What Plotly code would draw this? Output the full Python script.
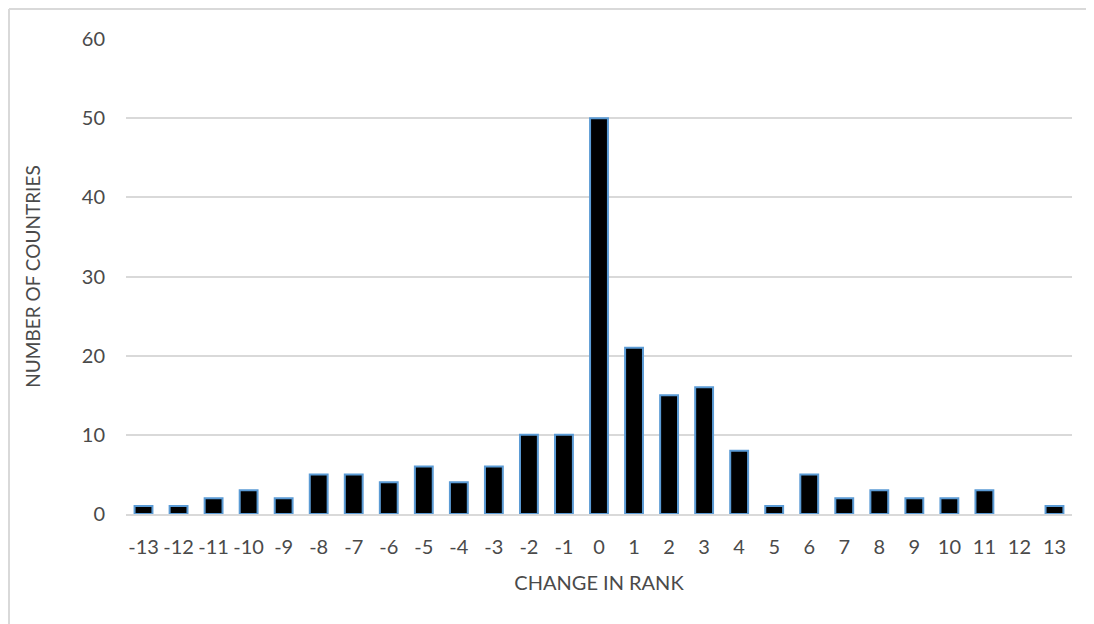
import plotly.graph_objects as go

change_in_rank = ["-13", "-12", "-11", "-10", "-9", "-8", "-7", "-6", "-5", "-4", "-3", "-2", "-1",
                  "0", "1", "2", "3", "4", "5", "6", "7", "8", "9", "10", "11", "12", "13"]
num_countries = [1, 1, 2, 3, 2, 5, 5, 4, 6, 4, 6, 10, 10,
                 50, 21, 15, 16, 8, 1, 5, 2, 3, 2, 2, 3, 0, 1]
y_ticks = [0, 10, 20, 30, 40, 50, 60]

# page has an 8px body margin, so the figure fits the remaining viewport
W, H = 1086, 616
L, R, T, B = 118, 22, 31, 110
pw, ph = W - L - R, H - T - B

fig = go.Figure(go.Bar(
    x=change_in_rank, y=num_countries,
    marker=dict(color="black",
                line=dict(color="#5B9BD5", width=[2 if v > 0 else 0 for v in num_countries])),
))

font_family = "Lato, 'Open Sans', sans-serif"
txt = "#4a4a4a"
frame_x0 = (1 - L) / pw
frame_y1 = (T + ph - 1) / ph
fig.update_layout(
    width=W, height=H,
    margin=dict(l=L, r=R, t=T, b=B),
    paper_bgcolor="white", plot_bgcolor="white",
    bargap=0.49,
    showlegend=False,
    font=dict(family=font_family, color=txt, size=20),
    xaxis=dict(
        type="category",
        showgrid=False,
        showline=True, linecolor="#D9D9D9", linewidth=1.5,
        ticks="", tickfont=dict(size=20, color=txt), ticklabelstandoff=14,
        title=dict(text="CHANGE IN RANK", font=dict(size=20, color=txt), standoff=19),
        fixedrange=True,
    ),
    yaxis=dict(
        range=[0, 60], tickvals=y_ticks,
        showgrid=True, gridcolor="#D9D9D9", gridwidth=1.5,
        zeroline=False, showline=False,
        ticks="", ticklen=0, tickfont=dict(size=20, color=txt), ticklabelstandoff=20,
        title=dict(text="NUMBER OF COUNTRIES", font=dict(size=19, color=txt), standoff=36),
        fixedrange=True,
    ),
    shapes=[
        dict(type="line", xref="paper", yref="paper",
             x0=frame_x0, x1=1.2, y0=frame_y1, y1=frame_y1,
             line=dict(color="#D9D9D9", width=2), layer="below"),
        dict(type="line", xref="paper", yref="paper",
             x0=frame_x0, x1=frame_x0, y0=-0.4, y1=frame_y1,
             line=dict(color="#D9D9D9", width=2), layer="below"),
    ],
)

fig.write_html("out.html")
